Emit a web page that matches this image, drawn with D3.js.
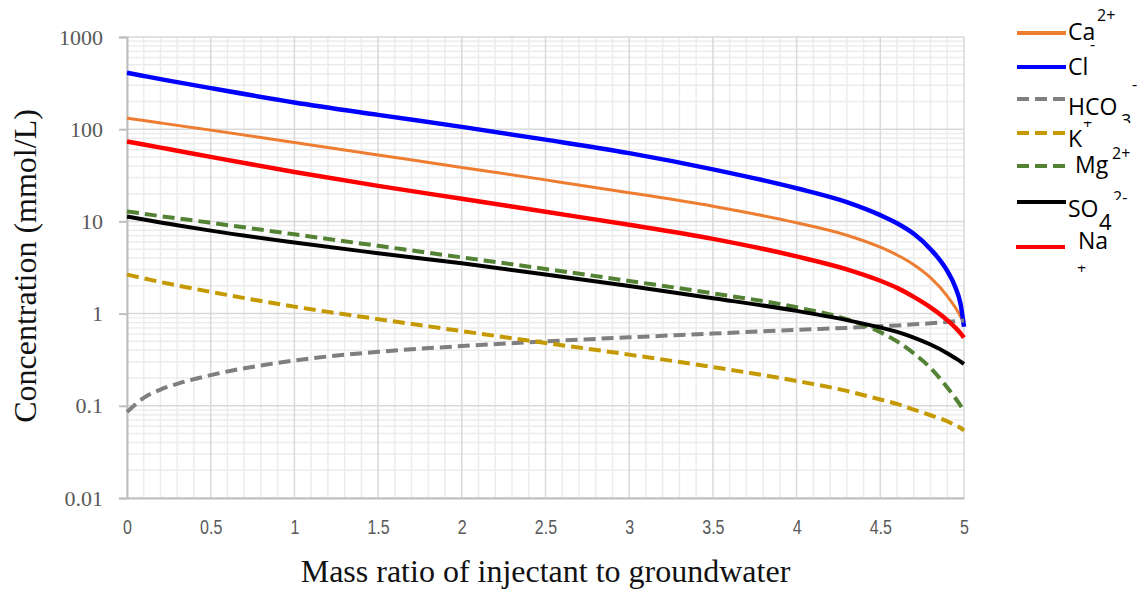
<!DOCTYPE html>
<html><head><meta charset="utf-8">
<script src="https://cdn.jsdelivr.net/npm/d3@7/dist/d3.min.js"></script>
<style>body{margin:0;background:#fff}svg{display:block}</style>
</head><body><svg id="c" width="1138" height="592"></svg>
<script>
// ---- data ----
const xValues = [0, 0.1, 0.2, 0.3, 0.5, 1, 1.5, 2, 2.5, 3, 3.5, 4, 4.3, 4.5, 4.6, 4.7, 4.8, 4.9, 4.95, 4.98, 5];
const ca   = [132, 124.5, 117, 110, 97.7, 71.6, 52.5, 38.5, 28.2, 20.5, 14.6, 9.66, 7.08, 5.25, 4.32, 3.39, 2.45, 1.55, 1.15, 0.93, 0.79];
const cl   = [410, 378, 349, 324, 279, 195, 143, 106, 77.1, 55, 36.7, 22.9, 16.2, 11.7, 9.55, 7.33, 5.0, 2.9, 1.9, 1.26, 0.72];
const hco3 = [0.0855, 0.122, 0.150, 0.173, 0.215, 0.31, 0.385, 0.445, 0.50, 0.553, 0.607, 0.667, 0.70, 0.73, 0.745, 0.765, 0.785, 0.81, 0.825, 0.835, 0.84];
const k    = [2.65, 2.41, 2.20, 2.02, 1.72, 1.19, 0.871, 0.646, 0.481, 0.359, 0.263, 0.186, 0.145, 0.117, 0.105, 0.091, 0.079, 0.068, 0.061, 0.0575, 0.054];
const mg   = [12.8, 12.1, 11.4, 10.8, 9.66, 7.24, 5.43, 4.07, 3.05, 2.26, 1.66, 1.17, 0.87, 0.63, 0.50, 0.37, 0.257, 0.158, 0.120, 0.10, 0.087];
const so4  = [11.3, 10.5, 9.73, 9.08, 7.94, 5.89, 4.52, 3.51, 2.66, 1.99, 1.47, 1.07, 0.85, 0.706, 0.634, 0.55, 0.462, 0.372, 0.327, 0.302, 0.285];
const na   = [73.6, 68.2, 63.1, 58.5, 50.1, 34.3, 24.3, 17.6, 12.7, 9.18, 6.46, 4.17, 3.02, 2.27, 1.90, 1.52, 1.17, 0.85, 0.70, 0.61, 0.55];
const seriesKeys = ["Ca", "Cl", "HCO3", "K", "Mg", "SO4", "Na"];
const seriesValues = [ca, cl, hco3, k, mg, so4, na];
// legend label parts: [base, superscript, subscript]
const legendParts = [["Ca","2+",""],["Cl","-",""],["HCO","-","3"],["K","+",""],["Mg","2+",""],["SO","2-","4"],["Na","+",""]];
const xTickValues = [0, 0.5, 1, 1.5, 2, 2.5, 3, 3.5, 4, 4.5, 5];
const yTickValues = [0.01, 0.1, 1, 10, 100, 1000];
const xTitle = "Mass ratio of injectant to groundwater";
const yTitle = "Concentration (mmol/L)";

// ---- styles ----
const style = {
  Ca:   {color:"#ED7D31", w:3,   dash:null},
  Cl:   {color:"#0000FF", w:4.5, dash:null},
  HCO3: {color:"#7F7F7F", w:4,   dash:"12,6"},
  K:    {color:"#C49A00", w:4,   dash:"12,6"},
  Mg:   {color:"#548235", w:4,   dash:"12,6"},
  SO4:  {color:"#000000", w:4,   dash:null},
  Na:   {color:"#FF0000", w:4.5, dash:null}
};

const svg = d3.select("#c");
const L = 127, R = 964, T = 37, B = 498;
const x = d3.scaleLinear().domain([0, 5]).range([L, R]);
const y = d3.scaleLog().domain([0.01, 1000]).range([B, T]);

// minor grid
const g = svg.append("g");
const minorX = d3.range(0, 51).map(i => i / 10).filter(v => Math.abs(v * 2 - Math.round(v * 2)) > 1e-6);
const minorY = [];
[0.01, 0.1, 1, 10, 100].forEach(d => { for (let m = 2; m <= 9; m++) minorY.push(d * m); });
g.selectAll(".mx").data(minorX).join("line")
  .attr("x1", d => x(d)).attr("x2", d => x(d)).attr("y1", T).attr("y2", B)
  .attr("stroke", "#ececec").attr("stroke-width", 1.5);
g.selectAll(".my").data(minorY).join("line")
  .attr("x1", L).attr("x2", R).attr("y1", d => y(d)).attr("y2", d => y(d))
  .attr("stroke", "#ececec").attr("stroke-width", 1.5);
// major grid
g.selectAll(".Mx").data(xTickValues).join("line")
  .attr("x1", d => x(d)).attr("x2", d => x(d)).attr("y1", T).attr("y2", B)
  .attr("stroke", "#d9d9d9").attr("stroke-width", 1.5);
g.selectAll(".My").data(yTickValues).join("line")
  .attr("x1", L).attr("x2", R).attr("y1", d => y(d)).attr("y2", d => y(d))
  .attr("stroke", "#d9d9d9").attr("stroke-width", 1.5);

// axes
const yAxis = d3.axisLeft(y).tickValues(yTickValues).tickFormat(d => String(d)).tickSize(8).tickPadding(16);
const ya = svg.append("g").attr("transform", `translate(${L},0)`).call(yAxis);
ya.select(".domain").attr("stroke", "#bfbfbf").attr("stroke-width", 2);
ya.selectAll(".tick line").attr("stroke", "#bfbfbf").attr("stroke-width", 2);
ya.selectAll(".tick text").attr("fill", "#595959")
  .style("font-family", "'Liberation Serif', serif").style("font-size", "22px");

const xAxis = d3.axisBottom(x).tickValues(xTickValues).tickFormat(d => String(d)).tickSize(0).tickPadding(0);
const xa = svg.append("g").attr("transform", `translate(0,${B})`).call(xAxis);
xa.select(".domain").attr("stroke", "#bfbfbf").attr("stroke-width", 2);
xa.selectAll(".tick text").attr("fill", "#595959").attr("y", null).attr("dy", null)
  .attr("transform", "translate(0,36) scale(0.8,1)")
  .style("font-family", "'Liberation Sans', Arial, sans-serif").style("font-size", "20px");

// series
const line = d3.line().x(d => x(d[0])).y(d => y(d[1])).curve(d3.curveMonotoneX);
seriesKeys.forEach((key, i) => {
  const pts = xValues.map((xv, j) => [xv, seriesValues[i][j]]);
  const s = style[key];
  svg.append("path").datum(pts).attr("d", line)
    .attr("fill", "none").attr("stroke", s.color).attr("stroke-width", s.w)
    .attr("stroke-dasharray", s.dash).attr("stroke-linejoin", "round");
});

// titles
svg.append("text").attr("x", (L + R) / 2).attr("y", 582).attr("text-anchor", "middle")
  .style("font-family", "'Liberation Serif', serif").style("font-size", "32px").attr("fill", "#111")
  .text(xTitle);
svg.append("text").attr("transform", "translate(36,266) rotate(-90)").attr("text-anchor", "middle")
  .style("font-family", "'Liberation Serif', serif").style("font-size", "32px").attr("fill", "#111")
  .text(yTitle);

// legend
const legY = [33, 67, 99, 133, 166, 202, 247];
const legLayout = [
  {bx:1068, by:40,  sx:1097, sy:21, sfs:16},
  {bx:1068, by:75,  sx:1090, sy:50, sfs:16},
  {bx:1068, by:115, sx:1132, sy:90, sfs:16, ux:1121, uy:127, ufs:18, uclip:[100,123]},
  {bx:1068, by:147, sx:1083, sy:129, sfs:16, sclip:[121.5,140]},
  {bx:1075, by:173, sx:1112, sy:159, sfs:16},
  {bx:1068, by:217, sx:1113, sy:203, sfs:16, sclip:[180,200], ux:1099, uy:230, ufs:22},
  {bx:1078, by:249, sx:1077, sy:274, sfs:16, sclip:[265.5,290]}
];
const defs = svg.append("defs");
const lg = svg.append("g").style("font-family", "'Open Sans', sans-serif").attr("fill", "#000");
seriesKeys.forEach((key, i) => {
  const s = style[key], p = legendParts[i], lay = legLayout[i];
  const x0 = key === "Na" ? 1016 : 1017;
  lg.append("line").attr("x1", x0).attr("x2", x0 + 49).attr("y1", legY[i]).attr("y2", legY[i])
    .attr("stroke", s.color).attr("stroke-width", 4).attr("stroke-dasharray", s.dash);
  lg.append("text").attr("x", lay.bx).attr("y", lay.by).style("font-size", "23px").text(p[0]);
  const sup = lg.append("text").attr("x", lay.sx).attr("y", lay.sy).style("font-size", lay.sfs + "px").text(p[1]);
  if (lay.sclip) {
    const id = "cs" + i;
    defs.append("clipPath").attr("id", id).append("rect").attr("x", 1000).attr("y", lay.sclip[0]).attr("width", 138).attr("height", lay.sclip[1] - lay.sclip[0]);
    sup.attr("clip-path", `url(#${id})`);
  }
  if (p[2]) {
    const sub = lg.append("text").attr("x", lay.ux).attr("y", lay.uy).style("font-size", lay.ufs + "px").text(p[2]);
    if (lay.uclip) {
      const id = "cu" + i;
      defs.append("clipPath").attr("id", id).append("rect").attr("x", 1000).attr("y", lay.uclip[0]).attr("width", 138).attr("height", lay.uclip[1] - lay.uclip[0]);
      sub.attr("clip-path", `url(#${id})`);
    }
  }
});
</script>
</body></html>
